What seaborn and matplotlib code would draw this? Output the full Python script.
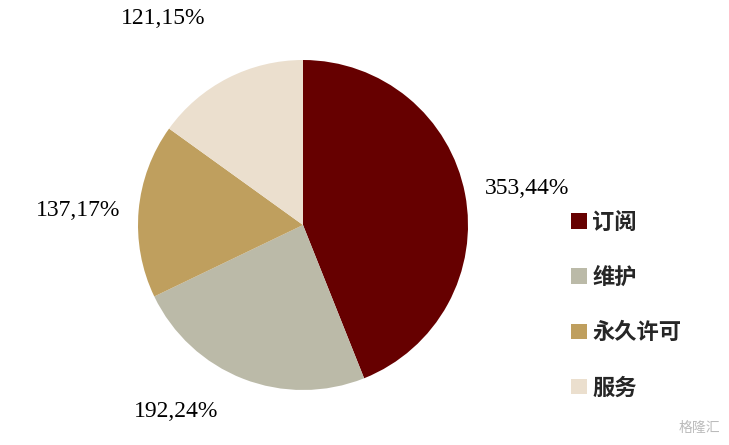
import matplotlib
matplotlib.use("Agg")
import matplotlib.pyplot as plt
import seaborn as sns
from matplotlib.patches import Patch

categories = ["订阅", "维护", "永久许可", "服务"]
values = [353, 192, 137, 121]
percents = ["44%", "24%", "17%", "15%"]
colors = ["#660000", "#BBBAA8", "#BF9F5E", "#EBDFCE"]

sns.set_theme(style="white")
plt.rcParams['font.family'] = ['Noto Sans CJK SC', 'DejaVu Sans']

fig = plt.figure(figsize=(7.29, 4.45), dpi=100)
ax = fig.add_axes([138/729, 55/445, 330/729, 330/445])
wedges, _ = ax.pie(values, colors=sns.color_palette(colors), startangle=90,
                   counterclock=False, radius=1.0,
                   wedgeprops=dict(linewidth=0))
ax.set_xlim(-1, 1)
ax.set_ylim(-1, 1)
ax.set_aspect('equal', adjustable='box')
ax.axis('off')

label_pos = [(1.36, 0.22), (-0.77, -1.13), (-1.36, 0.09), (-0.85, 1.25)]
for (x, y), v, p in zip(label_pos, values, percents):
    ax.text(x, y, f"{v},{p}", ha='center', va='center',
            fontsize=17, family=['Liberation Serif', 'DejaVu Serif'],
            color='#000000')

handles = [Patch(facecolor=c, edgecolor='none') for c in colors]
leg = fig.legend(handles, categories, loc='center left',
                 bbox_to_anchor=(551/729, 1 - 305/445), frameon=False,
                 prop={'family': 'Noto Sans CJK SC', 'size': 16, 'weight': 'bold'},
                 handlelength=0.7, handleheight=0.7, handletextpad=0.25,
                 labelspacing=1.45)

fig.text(720/729, 1 - 428/445, "格隆汇", ha='right', va='center',
         fontsize=10, color='#BBBBBB', family='Noto Sans CJK SC')

fig.savefig("out.png", dpi=100, facecolor='white')
